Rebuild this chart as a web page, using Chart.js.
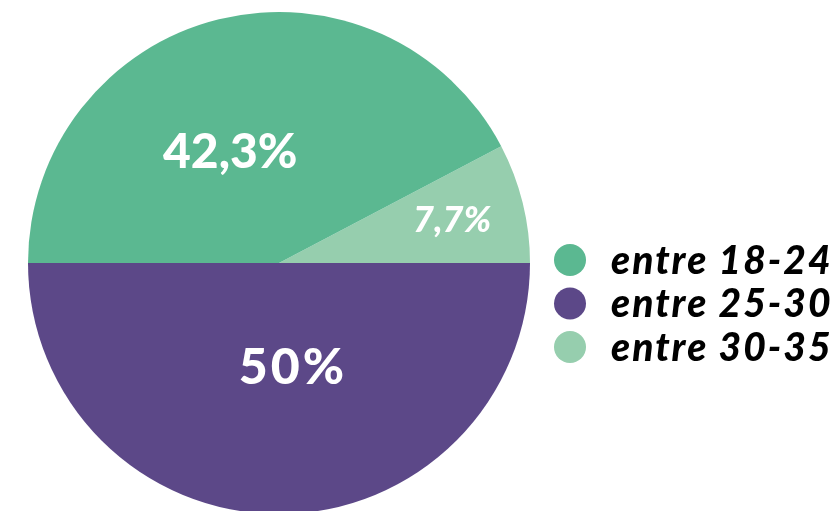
<!DOCTYPE html>
<html>
<head>
  <title>Idades</title>
  <style>
    html, body { margin: 0; padding: 0; overflow: hidden; background: #fff; }
    #box { width: 839px; height: 526px; }
  </style>
</head>
<body>
  <div id="box"><canvas id="pie"></canvas></div>

  <script src="https://cdn.jsdelivr.net/npm/chart.js"></script>
  <script>
    // dados do gráfico (ordem da legenda)
    const faixas = ['entre 18-24', 'entre 25-30', 'entre 30-35'];
    const percentuais = [42.3, 50, 7.7];
    const rotulos = ['42,3%', '50%', '7,7%'];
    const cores = ['#5bb891', '#5c4888', '#96ceae'];

    // ajustes visuais dos rótulos
    const rotuloRaio = [0.48, 0.42, 0.71];
    const rotuloAngulo = [-10, -7.6, 0];
    const rotuloFonte = [48, 50, 36];
    const rotuloEspaco = ['0px', '3px', '0px'];

    // o gráfico original é desenhado no sentido anti-horário,
    // então os dados entram invertidos no Chart.js
    const ordem = [2, 1, 0];

    const fatiaLabels = {
      id: 'fatiaLabels',
      afterDatasetsDraw(chart) {
        const ctx = chart.ctx;
        const meta = chart.getDatasetMeta(0);
        ctx.save();
        ctx.fillStyle = '#fff';
        ctx.textAlign = 'center';
        ctx.textBaseline = 'middle';
        meta.data.forEach((arc, j) => {
          const i = ordem[j];
          const p = arc.getProps(['x', 'y', 'startAngle', 'endAngle', 'outerRadius'], true);
          const a = (p.startAngle + p.endAngle) / 2 + rotuloAngulo[i] * Math.PI / 180;
          const r = p.outerRadius * rotuloRaio[i];
          ctx.font = (i === 2 ? 'italic ' : '') + '900 ' + rotuloFonte[i] + 'px Lato, "Noto Sans", sans-serif';
          ctx.letterSpacing = rotuloEspaco[i];
          ctx.fillText(rotulos[i], p.x + Math.cos(a) * r, p.y + Math.sin(a) * r);
        });
        ctx.restore();
      }
    };

    const legendaLado = {
      id: 'legendaLado',
      afterDraw(chart) {
        const ctx = chart.ctx;
        const area = chart.chartArea;
        const cy = (area.top + area.bottom) / 2;
        ctx.save();
        ctx.textAlign = 'left';
        ctx.textBaseline = 'middle';
        ctx.font = 'italic 900 39px Lato, "Noto Sans", sans-serif';
        ctx.letterSpacing = '2px';
        faixas.forEach((f, i) => {
          const y = cy - 3 + i * 43.5;
          ctx.beginPath();
          ctx.fillStyle = cores[i];
          ctx.arc(area.right + 40, y, 16, 0, Math.PI * 2);
          ctx.fill();
          ctx.fillStyle = '#000';
          ctx.fillText(f, area.right + 81, y + 1);
        });
        ctx.restore();
      }
    };

    new Chart(document.getElementById('pie'), {
      type: 'pie',
      data: {
        labels: ordem.map(i => faixas[i]),
        datasets: [{
          data: ordem.map(i => percentuais[i]),
          backgroundColor: ordem.map(i => cores[i]),
          borderWidth: 0
        }]
      },
      options: {
        responsive: true,
        maintainAspectRatio: false,
        animation: false,
        rotation: 90 - 360 * percentuais[2] / 100,
        layout: { padding: { left: 28, right: 309, top: 12, bottom: 12 } },
        plugins: {
          legend: { display: false },
          tooltip: { enabled: false }
        }
      },
      plugins: [fatiaLabels, legendaLado]
    });
  </script>
</body>
</html>
